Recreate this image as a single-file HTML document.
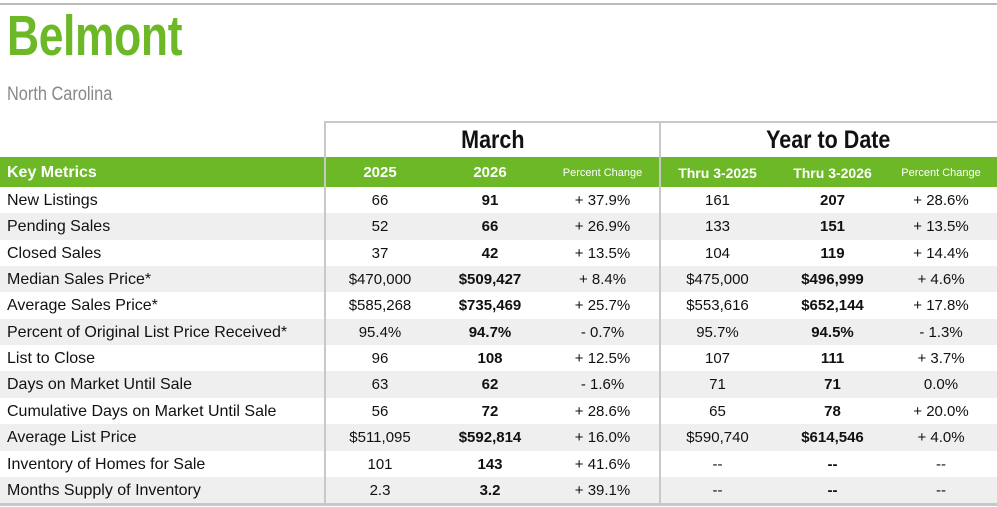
<!DOCTYPE html>
<html><head><meta charset="utf-8"><style>
*{margin:0;padding:0;box-sizing:border-box}
body{width:997px;height:507px;background:#fff;position:relative;overflow:hidden;font-family:"Liberation Sans",Arial,sans-serif;color:#111}
.top{position:absolute;left:0;top:3px;width:997px;height:2px;background:#bbb}
.title{position:absolute;left:7px;top:3px;font-weight:bold;font-size:57px;color:#6cb826;letter-spacing:-0.5px;line-height:66px;transform:scaleX(0.78);transform-origin:0 0;white-space:nowrap}
.sub{position:absolute;left:7px;top:84px;font-size:19px;color:#888;transform:scaleX(0.86);transform-origin:0 0;white-space:nowrap}
.hdrbox{position:absolute;top:121px;height:36px;border-top:2px solid #c8c8c8;font-weight:bold;font-size:25px;text-align:center;line-height:34px}
.hdrbox span{display:inline-block;transform:scaleX(0.86)}
.green{position:absolute;left:0;top:157px;width:997px;height:30px;background:#6cb826}
.row{position:absolute;left:0;width:997px;height:26.4px}
.c{position:absolute;text-align:center;font-size:15px;line-height:28px}
.l{position:absolute;left:7px;font-size:16px;line-height:28px}
.vl{position:absolute;top:121px;height:384px;width:2px;background:#c8c8c8}
.bot{position:absolute;left:0;top:503px;width:997px;height:3px;background:#c8c8c8}
</style></head><body>
<div class="top"></div>
<div class="title">Belmont</div>
<div class="sub">North Carolina</div>
<div class="hdrbox" style="left:325px;width:335px"><span>March</span></div>
<div class="hdrbox" style="left:660px;width:337px"><span>Year to Date</span></div>
<div class="green"></div>
<div id="rows"></div>
<div class="vl" style="left:324px"></div>
<div class="vl" style="left:659px"></div>
<div class="bot"></div>
<div style="position:absolute;left:0;top:158px;width:997px;height:30px;color:#fff;font-weight:bold">
<div class="l" style="line-height:30px;font-size:16px">Key Metrics</div>
<div class="c" style="left:325px;width:110px;line-height:30px">2025</div>
<div class="c" style="left:435px;width:110px;line-height:30px">2026</div>
<div class="c" style="left:545px;width:115px;line-height:30px;font-weight:normal;font-size:11px">Percent Change</div>
<div class="c" style="left:660px;width:115px;line-height:30px;font-size:14px">Thru 3-2025</div>
<div class="c" style="left:775px;width:115px;line-height:30px;font-size:14px">Thru 3-2026</div>
<div class="c" style="left:885px;width:112px;line-height:30px;font-weight:normal;font-size:11px">Percent Change</div>
</div>
<script>
var d=[
["New Listings","66","91","+ 37.9%","161","207","+ 28.6%"],
["Pending Sales","52","66","+ 26.9%","133","151","+ 13.5%"],
["Closed Sales","37","42","+ 13.5%","104","119","+ 14.4%"],
["Median Sales Price*","$470,000","$509,427","+ 8.4%","$475,000","$496,999","+ 4.6%"],
["Average Sales Price*","$585,268","$735,469","+ 25.7%","$553,616","$652,144","+ 17.8%"],
["Percent of Original List Price Received*","95.4%","94.7%","- 0.7%","95.7%","94.5%","- 1.3%"],
["List to Close","96","108","+ 12.5%","107","111","+ 3.7%"],
["Days on Market Until Sale","63","62","- 1.6%","71","71","0.0%"],
["Cumulative Days on Market Until Sale","56","72","+ 28.6%","65","78","+ 20.0%"],
["Average List Price","$511,095","$592,814","+ 16.0%","$590,740","$614,546","+ 4.0%"],
["Inventory of Homes for Sale","101","143","+ 41.6%","--","--","--"],
["Months Supply of Inventory","2.3","3.2","+ 39.1%","--","--","--"]];
var cols=[[325,110],[435,110],[545,115],[660,115],[775,115],[885,112]];
var h="";
d.forEach(function(r,i){
h+='<div class="row" style="top:'+(187+i*26.35)+'px;background:'+(i%2?'#efefef':'#fff')+'"><div class="l">'+r[0]+'</div>';
for(var j=1;j<7;j++){h+='<div class="c" style="left:'+cols[j-1][0]+'px;width:'+cols[j-1][1]+'px;'+((j==2||j==5)?'font-weight:bold':'')+'">'+r[j]+'</div>';}
h+='</div>';});
document.getElementById('rows').innerHTML=h;
</script>
</body></html>
